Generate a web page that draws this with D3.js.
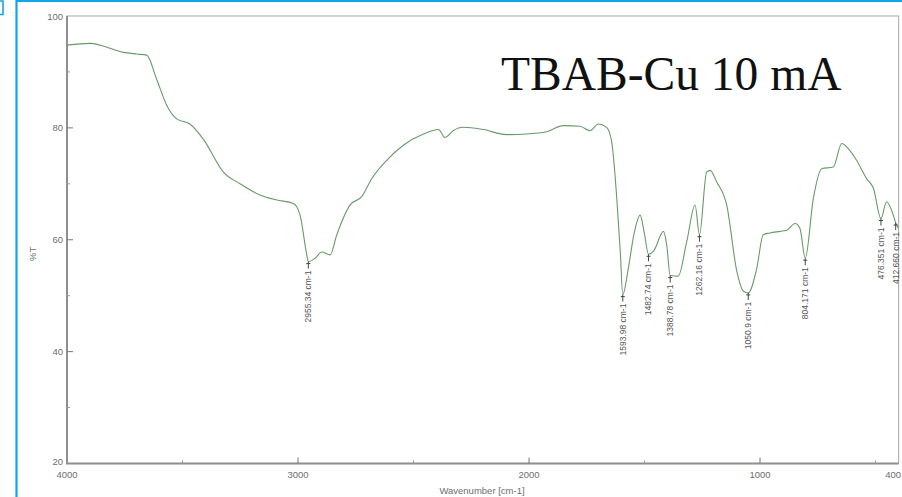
<!DOCTYPE html>
<html>
<head>
<meta charset="utf-8">
<script src="https://cdn.jsdelivr.net/npm/d3@7"></script>
<style>
  html, body { margin: 0; padding: 0; background: #fff; }
  svg { display: block; }
</style>
</head>
<body>
<svg id="chart" width="902" height="497"></svg>
<script>
// FTIR spectrum: wavenumber (cm-1) vs transmittance (%T)
const wavenumber = [4000, 3900, 3756, 3698, 3655, 3612, 3568, 3525, 3468, 3410, 3323, 3251, 3165, 3092, 3020, 2991, 2962,
  2955.34, 2926, 2897, 2861, 2832, 2775, 2724, 2681, 2616, 2544, 2457, 2392, 2364, 2328, 2284, 2198, 2097, 2010, 1924,
  1851, 1779, 1736, 1700, 1664, 1642, 1620, 1605, 1593.98, 1570, 1546, 1519, 1500, 1482.74, 1460, 1418, 1404, 1388.78,
  1354, 1317, 1281, 1262.16, 1231, 1216, 1187, 1144, 1100, 1072, 1050.9, 1014, 986, 957, 913, 884, 848, 827, 804.171,
  769, 733, 683, 646, 618, 582, 538, 509, 476.351, 452, 423, 412.660, 400];
const transmittance = [94.8, 95.1, 93.5, 93.2, 93.0, 88.7, 84.0, 81.6, 80.7, 78.0, 72.1, 70.0, 68.0, 67.1, 66.5, 64.4, 57.3,
  56.1, 56.7, 57.8, 57.3, 60.9, 66.2, 67.7, 70.9, 74.2, 76.9, 78.9, 79.7, 78.3, 79.5, 80.1, 79.7, 78.8, 78.9, 79.3,
  80.4, 80.3, 79.5, 80.7, 80.1, 77.5, 67.4, 58.0, 50.2, 54.9, 60.9, 64.4, 61.0, 57.4, 58.0, 61.5, 59.1, 53.6,
  53.5, 59.7, 66.2, 60.9, 72.1, 72.4, 70.3, 66.2, 54.3, 50.8, 50.5, 54.9, 60.9, 61.2, 61.5, 61.7, 62.9, 62.0, 56.7,
  67.4, 72.7, 73.0, 77.2, 76.3, 74.2, 70.9, 69.2, 63.8, 66.8, 64.4, 63.0, 62.0];

// Labelled absorption peaks
const peakWavenumbers = [2955.34, 1593.98, 1482.74, 1388.78, 1262.16, 1050.9, 804.171, 476.351, 412.660];
const peakLabels = ["2955.34", "1593.98", "1482.74", "1388.78", "1262.16", "1050.9", "804.171", "476.351", "412.660"];

const xMajorTicks = [4000, 3000, 2000, 1000, 400];
const xMinorTicks = [3500, 2500, 1500, 500];
const yMajorTicks = [100, 80, 60, 40, 20];
const yMinorTicks = [90, 70, 50, 30];

const title = "TBAB-Cu 10 mA";
const xTitle = "Wavenumber [cm-1]";
const yTitle = "%T";

const svg = d3.select("#chart");
const plotLeft = 67, plotRight = 898.6, plotTop = 16, plotBottom = 463.5;

const x = d3.scaleLinear().domain([4000, 400]).range([plotLeft, plotRight]);
const y = d3.scaleLinear().domain([20, 100]).range([plotBottom, plotTop]);

// Page frame (blue)
const blue = "#0fa6e6";
svg.append("path")
  .attr("d", "M0,1 H3 V14.5 H0")
  .attr("fill", "none").attr("stroke", blue).attr("stroke-width", 1.6);
svg.append("path")
  .attr("d", "M16.5,497 V1 H902")
  .attr("fill", "none").attr("stroke", blue).attr("stroke-width", 2.2);

// Plot frame
const axisColor = "#8f8f8f";
svg.append("rect")
  .attr("x", plotLeft).attr("y", plotTop)
  .attr("width", plotRight - plotLeft).attr("height", plotBottom - plotTop)
  .attr("fill", "none").attr("stroke", "#b4b4b4").attr("stroke-width", 1.2);
svg.append("path")
  .attr("d", `M${plotLeft},${plotTop} V${plotBottom} H${plotRight}`)
  .attr("fill", "none").attr("stroke", axisColor).attr("stroke-width", 2);

const tickFont = "'Liberation Sans', Arial, sans-serif";
const tickColor = "#6e6e6e";

// Y axis ticks
const yAxis = svg.append("g");
yAxis.selectAll("line.major").data(yMajorTicks.filter(d => d !== 100 && d !== 20)).join("line")
  .attr("class", "major")
  .attr("x1", plotLeft).attr("x2", plotLeft + 6)
  .attr("y1", d => y(d)).attr("y2", d => y(d))
  .attr("stroke", "#777").attr("stroke-width", 1);
yAxis.selectAll("line.minor").data(yMinorTicks).join("line")
  .attr("class", "minor")
  .attr("x1", plotLeft).attr("x2", plotLeft + 3)
  .attr("y1", d => y(d)).attr("y2", d => y(d))
  .attr("stroke", "#999").attr("stroke-width", 1);
yAxis.selectAll("text").data(yMajorTicks).join("text")
  .attr("x", plotLeft - 4)
  .attr("y", d => y(d) + (d === 20 ? -1 : 1))
  .attr("text-anchor", "end")
  .attr("dominant-baseline", "middle")
  .attr("font-family", tickFont).attr("font-size", 9.5)
  .attr("fill", tickColor)
  .text(d => d);

// X axis ticks
const xAxis = svg.append("g");
xAxis.selectAll("line.major").data(xMajorTicks.filter(d => d !== 4000 && d !== 400)).join("line")
  .attr("class", "major")
  .attr("x1", d => x(d)).attr("x2", d => x(d))
  .attr("y1", plotBottom).attr("y2", plotBottom - 6)
  .attr("stroke", "#777").attr("stroke-width", 1);
xAxis.selectAll("line.minor").data(xMinorTicks).join("line")
  .attr("class", "minor")
  .attr("x1", d => x(d)).attr("x2", d => x(d))
  .attr("y1", plotBottom).attr("y2", plotBottom - 3)
  .attr("stroke", "#999").attr("stroke-width", 1);
xAxis.selectAll("text").data(xMajorTicks).join("text")
  .attr("x", d => d === 400 ? 901 : x(d))
  .attr("y", plotBottom + 14)
  .attr("text-anchor", d => d === 400 ? "end" : "middle")
  .attr("font-family", tickFont).attr("font-size", 9.5)
  .attr("fill", tickColor)
  .text(d => d);

// Axis titles
svg.append("text")
  .attr("x", 482).attr("y", 494)
  .attr("text-anchor", "middle")
  .attr("font-family", tickFont).attr("font-size", 9.5)
  .attr("fill", tickColor)
  .text(xTitle);
svg.append("text")
  .attr("transform", `translate(33,${(plotTop + plotBottom) / 2 + 14}) rotate(-90)`)
  .attr("text-anchor", "middle")
  .attr("dominant-baseline", "middle")
  .attr("font-family", tickFont).attr("font-size", 9.5)
  .attr("fill", tickColor)
  .text(yTitle);

// Spectrum trace
const points = wavenumber.map((w, i) => ({ w, t: transmittance[i] }));
const line = d3.line().x(d => x(d.w)).y(d => y(d.t)).curve(d3.curveMonotoneX);
svg.append("path")
  .datum(points)
  .attr("d", line)
  .attr("fill", "none")
  .attr("stroke", "#689a68")
  .attr("stroke-width", 1.1);

// Peak markers and labels
const peaks = peakWavenumbers.map((w, i) => {
  const idx = wavenumber.indexOf(w);
  return { w, t: transmittance[idx], label: peakLabels[i] + " cm-1" };
});
const pk = svg.append("g").selectAll("g").data(peaks).join("g");
pk.append("line")
  .attr("x1", d => x(d.w)).attr("x2", d => x(d.w))
  .attr("y1", d => y(d.t)).attr("y2", d => y(d.t) + 7)
  .attr("stroke", "#444").attr("stroke-width", 1);
pk.append("line")
  .attr("x1", d => x(d.w) - 2).attr("x2", d => x(d.w) + 2)
  .attr("y1", d => y(d.t) + 2).attr("y2", d => y(d.t) + 2)
  .attr("stroke", "#444").attr("stroke-width", 1);
pk.append("text")
  .attr("transform", d => `translate(${x(d.w)},${y(d.t) + 9}) rotate(-90)`)
  .attr("text-anchor", "end")
  .attr("dy", "0.35em")
  .attr("font-family", tickFont).attr("font-size", 8.5)
  .attr("fill", "#555")
  .text(d => d.label);

// Sample title
svg.append("text")
  .attr("x", 501).attr("y", 90)
  .attr("font-family", "'Liberation Serif', 'Times New Roman', serif")
  .attr("font-size", 47.5)
  .attr("fill", "#111")
  .text(title);
</script>
</body>
</html>
